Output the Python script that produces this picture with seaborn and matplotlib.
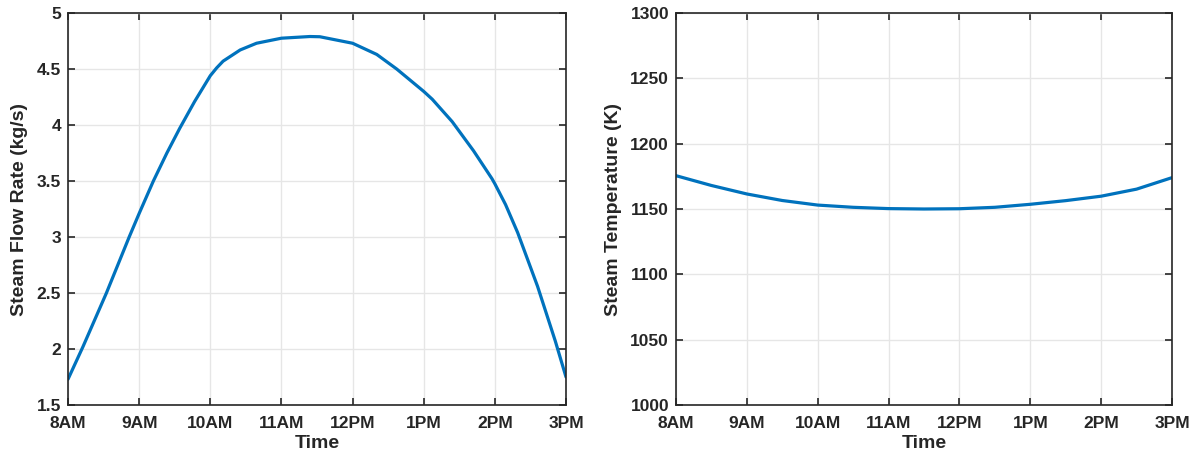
import matplotlib
matplotlib.use("Agg")
import matplotlib.pyplot as plt
import seaborn as sns
import pandas as pd

# Data
hours = [8.0, 8.21, 8.54, 8.86, 9.0, 9.2, 9.39, 9.57, 9.78, 10.0, 10.09, 10.18, 10.42, 10.65,
         11.0, 11.4, 11.54, 12.0, 12.34, 12.62, 13.0, 13.12, 13.4, 13.7, 13.96, 14.0, 14.15,
         14.32, 14.6, 14.85, 15.0]
flow_rate = [1.73, 2.02, 2.5, 3.0, 3.21, 3.5, 3.75, 3.97, 4.21, 4.44, 4.51, 4.57, 4.67, 4.73,
             4.775, 4.79, 4.788, 4.73, 4.63, 4.5, 4.30, 4.23, 4.03, 3.77, 3.52, 3.475, 3.29,
             3.04, 2.56, 2.07, 1.75]

temp_hours = [8.0, 8.5, 9.0, 9.5, 10.0, 10.5, 11.0, 11.5, 12.0, 12.5, 13.0, 13.5, 14.0, 14.5, 15.0]
steam_temp = [1175.5, 1168.0, 1161.5, 1156.5, 1153.0, 1151.3, 1150.3, 1150.0, 1150.2, 1151.3,
              1153.6, 1156.4, 1159.8, 1165.2, 1174.0]

tick_hours = [8, 9, 10, 11, 12, 13, 14, 15]
tick_labels = ["8AM", "9AM", "10AM", "11AM", "12PM", "1PM", "2PM", "3PM"]
flow_ticks = [1.5, 2, 2.5, 3, 3.5, 4, 4.5, 5]
flow_tick_labels = ["1.5", "2", "2.5", "3", "3.5", "4", "4.5", "5"]
temp_ticks = [1000, 1050, 1100, 1150, 1200, 1250, 1300]

sns.set_theme(style="white")
plt.rcParams['font.family'] = ['Liberation Sans', 'DejaVu Sans']
plt.rcParams['font.weight'] = 'bold'

LINE = "#0072BD"
AX = "#262626"

fig = plt.figure(figsize=(11.94, 4.57), dpi=100)
ax1 = fig.add_axes([68 / 1194, 52 / 457, 498 / 1194, 392 / 457])
ax2 = fig.add_axes([676 / 1194, 52 / 457, 496 / 1194, 392 / 457])

df1 = pd.DataFrame({"Time": hours, "Flow": flow_rate})
df2 = pd.DataFrame({"Time": temp_hours, "Temp": steam_temp})

sns.lineplot(data=df1, x="Time", y="Flow", ax=ax1, color=LINE, linewidth=2.3)
sns.lineplot(data=df2, x="Time", y="Temp", ax=ax2, color=LINE, linewidth=2.3)

for ax, yt, ylab, ylim in [
    (ax1, flow_ticks, "Steam Flow Rate (kg/s)", (1.5, 5)),
    (ax2, temp_ticks, "Steam Temperature (K)", (1000, 1300)),
]:
    for ln in ax.get_lines():
        ln.set_solid_joinstyle("round")
    ax.set_xlim(8, 15)
    ax.set_ylim(*ylim)
    ax.set_xticks(tick_hours)
    ax.set_xticklabels(tick_labels)
    ax.set_yticks(yt)
    if ax is ax1:
        ax.set_yticklabels(flow_tick_labels)
    ax.grid(True, color="#e6e6e6", linewidth=1.0)
    ax.set_axisbelow(True)
    for s in ax.spines.values():
        s.set_visible(True)
        s.set_color(AX)
        s.set_linewidth(1.2)
    ax.tick_params(axis="both", which="major", direction="in", length=5, width=1.2,
                   color=AX, labelcolor=AX, labelsize=12.5,
                   top=True, right=True, bottom=True, left=True)
    ax.tick_params(axis="x", pad=8)
    ax.tick_params(axis="y", pad=5)
    for lab in ax.get_xticklabels() + ax.get_yticklabels():
        lab.set_fontweight("bold")
    ax.set_xlabel("Time", fontsize=14, fontweight="bold", color=AX, labelpad=3)
    ax.set_ylabel(ylab, fontsize=14, fontweight="bold", color=AX, labelpad=6)

fig.savefig("out.png", dpi=100)
